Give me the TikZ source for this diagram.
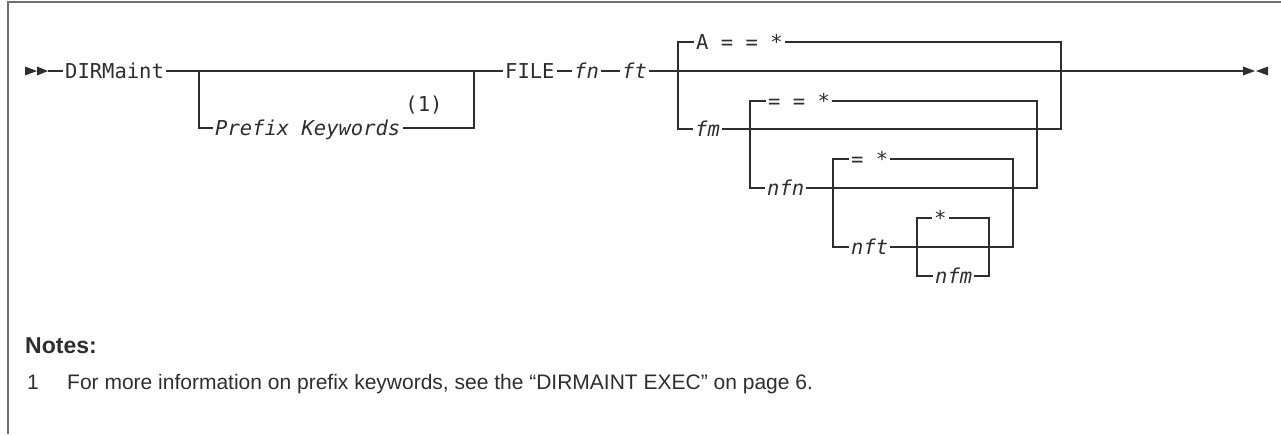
\documentclass[tikz,border=0pt]{standalone}
\usepackage{fontspec}
\setmainfont{Liberation Sans}
\setmonofont{DejaVu Sans Mono}
\usetikzlibrary{positioning}
\definecolor{Wire} {HTML}{2E2E2E}
\definecolor{Frame}{HTML}{707070}
\tikzset{
  wire/.style={draw=Wire, line width=1.4pt},
  kw/.style={
    anchor=west, inner xsep=2pt, inner ysep=0pt,
    text=Wire, font=\fontsize{20.5}{22}\ttfamily,
    text height=14pt, text depth=0pt,
  },
  var/.style={kw, font=\fontsize{20.5}{22}\ttfamily\itshape},
  ref/.style={kw, anchor=center},
  tipfill/.style={fill=Wire},
  notehead/.style={anchor=base west, inner sep=0pt, text=Wire,
    font=\fontsize{23}{26}\selectfont\bfseries},
  notebody/.style={anchor=base west, inner sep=0pt, text=Wire,
    font=\fontsize{21}{24}\selectfont},
}
\begin{document}
\begin{tikzpicture}[x=1pt,y=-1pt]
      \useasboundingbox (0,0) rectangle (1281,434);
      \draw[Frame, line width=2pt] (1281,2) -- (8,2) -- (8,434);

      % start and end marks
      \coordinate (START) at (48,71);
      \coordinate (END) at (1243,71);
      \fill[tipfill] (25,66.5) -- (37,71) -- (25,75.5) -- cycle;
      \fill[tipfill] (37,66.5) -- (START) -- (37,75.5) -- cycle;
      \fill[tipfill] (END) ++(0,-4.5) -- (1255,71) -- (1243,75.5) -- cycle;
      \fill[tipfill] (1268,66.5) -- (1256,71) -- (1268,75.5) -- cycle;

      \node[kw]  (DIRM) at (63,71)   {DIRMaint};
      \node[var] (PFX)  at (213,128) {Prefix Keywords};
      \node[ref] (N1)   at (424,104) {(1)};
      \node[kw]  (FILE) at (503,71)  {FILE};
      \node[var] (FN)   at (572,71)  {fn};
      \node[var] (FT)   at (620,71)  {ft};

      \node[kw]  (DA)   at (694,42)  {A = = *};
      \node[var] (FM)   at (693,129) {fm};
      \node[kw]  (DEQ)  at (766,101) {= = *};
      \node[var] (NFN)  at (765,188) {nfn};
      \node[kw]  (DNFT) at (849,159) {= *};
      \node[var] (NFT)  at (849,247) {nft};
      \node[kw]  (DSTR) at (932,218) {*};
      \node[var] (NFM)  at (933,276) {nfm};

      % main line
      \draw[wire] (START) -- (DIRM.west);
      \draw[wire] (DIRM.east) -- (FILE.west);
      \coordinate (B1) at (199,71);
      \coordinate (B2) at (474,71);
      \draw[wire] (B1) |- (PFX.west);
      \draw[wire] (PFX.east) -| (B2);
      \draw[wire] (FILE.east) -- (FN.west);
      \draw[wire] (FN.east) -- (FT.west);
      \draw[wire] (FT.east) -- (END);

      % fm group
      \coordinate (B3) at (678,71);
      \coordinate (B4) at (1061,71);
      \draw[wire] (B3) |- (DA.west);
      \draw[wire] (DA.east) -| (B4);
      \draw[wire] (B3) |- (FM.west);
      \draw[wire] (FM.east) -| (B4);
      \draw[Wire, line width=2.6pt] (1067,71) -- (1090,71);

      % nfn group
      \coordinate (B5) at (750,129);
      \coordinate (B6) at (1037,129);
      \draw[wire] (B5) |- (DEQ.west);
      \draw[wire] (DEQ.east) -| (B6);
      \draw[wire] (B5) |- (NFN.west);
      \draw[wire] (NFN.east) -| (B6);

      % nft group
      \coordinate (B7) at (833,188);
      \coordinate (B8) at (1013,188);
      \draw[wire] (B7) |- (DNFT.west);
      \draw[wire] (DNFT.east) -| (B8);
      \draw[wire] (B7) |- (NFT.west);
      \draw[wire] (NFT.east) -| (B8);

      % nfm group
      \coordinate (B9) at (917,247);
      \coordinate (B10) at (989,247);
      \draw[wire] (B9) |- (DSTR.west);
      \draw[wire] (DSTR.east) -| (B10);
      \draw[wire] (B9) |- (NFM.west);
      \draw[wire] (NFM.east) -| (B10);

      % notes
      \node[notehead] (NOTES) at (25,353) {Notes:};
      \node[notebody] (NUM1)  at (27,389) {1};
      \node[notebody] (NTXT)  at (67,389)
            {For more information on prefix keywords, see the “DIRMAINT EXEC” on page 6.};

    \end{tikzpicture}
\end{document}
